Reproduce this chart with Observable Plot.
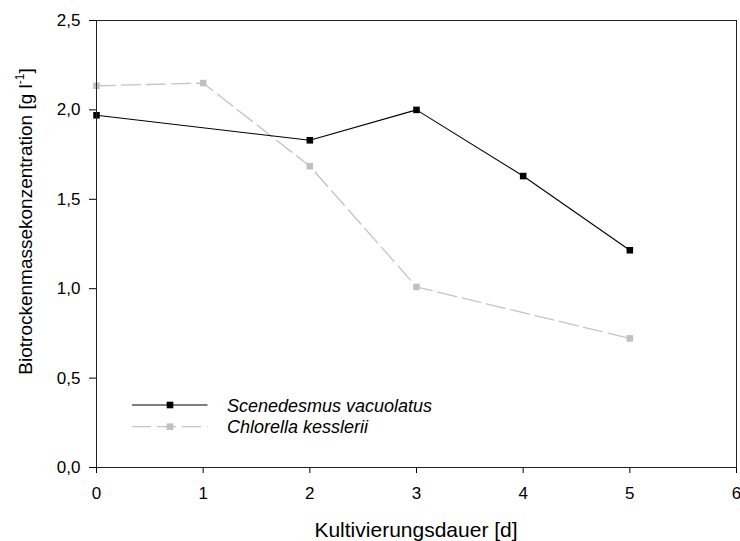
<!DOCTYPE html>
<html>
<head>
<meta charset="utf-8">
<script src="https://cdn.jsdelivr.net/npm/d3@7"></script>
<script src="https://cdn.jsdelivr.net/npm/@observablehq/plot@0.6"></script>
<style>
  html, body { margin: 0; padding: 0; background: #fff; }
  #chart { position: relative; width: 740px; height: 541px; }
</style>
</head>
<body>
<div id="chart"></div>
<script>
// ---- data ----
const scenDays = [0, 2, 3, 4, 5];
const scenValues = [1.97, 1.83, 2.00, 1.63, 1.215];
const chlorDays = [0, 1, 2, 3, 5];
const chlorValues = [2.135, 2.15, 1.685, 1.01, 0.722];
const xTicks = [0, 1, 2, 3, 4, 5, 6];
const yTicks = [0, 0.5, 1.0, 1.5, 2.0, 2.5];
const seriesNames = ["Scenedesmus vacuolatus", "Chlorella kesslerii"];
const xTitle = "Kultivierungsdauer [d]";
const yTitleMain = "Biotrockenmassekonzentration [g l";
const yTitleSup = "-1";
const yTitleEnd = "]";

const scen = scenDays.map((d, i) => ({day: d, value: scenValues[i]}));
const chlor = chlorDays.map((d, i) => ({day: d, value: chlorValues[i]}));

const styles = [
  {stroke: "#000", fill: "#000", dash: null, width: 1.1},
  {stroke: "#c4c4c4", fill: "#c0c0c0", dash: "19,6", width: 1.3}
];

const fmt = d => d.toFixed(1).replace(".", ",");

const chart = Plot.plot({
  width: 740,
  height: 541,
  marginLeft: 96,
  marginRight: 4,
  marginTop: 20,
  marginBottom: 74,
  style: {fontFamily: "'Liberation Sans', Arial, sans-serif", fontSize: "17px", color: "#000", background: "#fff"},
  x: {domain: [0, 6]},
  y: {domain: [0, 2.5]},
  marks: [
    Plot.axisX({ticks: xTicks, tickSize: 6, tickPadding: 13, fontSize: 17, label: null, tickFormat: d => String(d)}),
    Plot.axisY({ticks: yTicks, tickSize: 7, tickPadding: 9, fontSize: 17, label: null, tickFormat: fmt}),
    Plot.line(chlor, {x: "day", y: "value", stroke: styles[1].stroke, strokeWidth: styles[1].width, strokeDasharray: styles[1].dash}),
    Plot.dot(chlor, {x: "day", y: "value", symbol: "square", r: 3.7, fill: styles[1].fill, stroke: null}),
    Plot.line(scen, {x: "day", y: "value", stroke: styles[0].stroke, strokeWidth: styles[0].width}),
    Plot.dot(scen, {x: "day", y: "value", symbol: "square", r: 3.7, fill: styles[0].fill, stroke: null}),
    Plot.frame({stroke: "#222", strokeWidth: 1})
  ]
});

document.getElementById("chart").appendChild(chart);

const svg = d3.select(chart);
const font = "'Liberation Sans', Arial, sans-serif";

// x title
svg.append("text")
  .attr("x", 416).attr("y", 537)
  .attr("text-anchor", "middle")
  .attr("font-family", font).attr("font-size", 21).attr("fill", "#000")
  .text(xTitle);

// y title with superscript
const yt = svg.append("text")
  .attr("transform", "translate(32,221.5) rotate(-90)")
  .attr("text-anchor", "middle")
  .attr("font-family", font).attr("font-size", 19).attr("fill", "#000");
yt.append("tspan").text(yTitleMain);
yt.append("tspan").attr("font-size", 12).attr("dy", -8).text(yTitleSup);
yt.append("tspan").attr("dy", 8).text(yTitleEnd);

// legend
const lg = svg.append("g");
seriesNames.forEach((name, i) => {
  const y = 405 + i * 21.7;
  const s = styles[i];
  lg.append("line")
    .attr("x1", 132).attr("x2", 207.5).attr("y1", y).attr("y2", y)
    .attr("stroke", s.stroke).attr("stroke-width", s.width)
    .attr("stroke-dasharray", s.dash);
  lg.append("rect")
    .attr("x", 170 - 3.3).attr("y", y - 3.3).attr("width", 6.6).attr("height", 6.6)
    .attr("fill", s.fill);
  lg.append("text")
    .attr("x", 227).attr("y", y + 6.5)
    .attr("text-anchor", "start")
    .attr("font-family", font).attr("font-size", 18).attr("font-style", "italic")
    .attr("fill", "#000")
    .text(name);
});
</script>
</body>
</html>
